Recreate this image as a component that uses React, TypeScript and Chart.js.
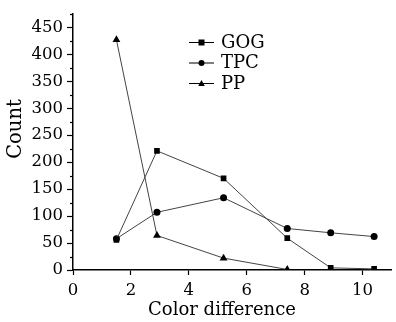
import React, { useEffect, useRef } from "react";
import { Chart, registerables } from "chart.js";

Chart.register(...registerables);

const xGOG = [1.5, 2.9, 5.2, 7.4, 8.9, 10.4];
const yGOG = [56, 221, 170, 59, 4, 2];
const xTPC = [1.5, 2.9, 5.2, 7.4, 8.9, 10.4];
const yTPC = [58, 107, 134, 77, 69, 62];
const xPP = [1.5, 2.9, 5.2, 7.4];
const yPP = [427, 64, 22, 1];
const seriesNames = ["GOG", "TPC", "PP"];
const xTicks = [0, 2, 4, 6, 8, 10];
const yTicks = [0, 50, 100, 150, 200, 250, 300, 350, 400, 450];
const xTitle = "Color difference";
const yTitle = "Count";

const FONT = "'DejaVu Serif', serif";

function pts(xs: number[], ys: number[]) {
  return xs.map((x, i) => ({ x, y: ys[i] }));
}

function drawMarker(ctx: CanvasRenderingContext2D, style: string, x: number, y: number, r: number) {
  ctx.beginPath();
  if (style === "rect") {
    ctx.rect(x - r, y - r, 2 * r, 2 * r);
  } else if (style === "circle") {
    ctx.arc(x, y, r, 0, Math.PI * 2);
  } else {
    ctx.moveTo(x, y - r * 1.2);
    ctx.lineTo(x + r * 1.1, y + r * 0.8);
    ctx.lineTo(x - r * 1.1, y + r * 0.8);
    ctx.closePath();
  }
  ctx.fill();
}

const extras = {
  id: "extras",
  afterDraw(chart: any) {
    const ctx = chart.ctx as CanvasRenderingContext2D;
    const ys = chart.scales.y;
    ctx.save();
    ctx.strokeStyle = "#000";
    ctx.lineWidth = 1.2;
    for (let v = 25; v <= 475; v += 50) {
      const p = Math.round(ys.getPixelForValue(v)) + 0.5;
      ctx.beginPath();
      ctx.moveTo(ys.right - 3, p);
      ctx.lineTo(ys.right, p);
      ctx.stroke();
    }
    // axis titles
    ctx.fillStyle = "#000";
    ctx.textAlign = "center";
    ctx.textBaseline = "middle";
    ctx.font = `18px ${FONT}`;
    ctx.fillText(xTitle, 222, 310);
    ctx.save();
    ctx.translate(16, 129);
    ctx.rotate(-Math.PI / 2);
    ctx.font = `19.5px ${FONT}`;
    ctx.fillText(yTitle, 0, 0);
    ctx.restore();
    // legend
    const lx0 = 189;
    const lx1 = 214;
    const ly0 = 42;
    chart.data.datasets.forEach((ds: any, i: number) => {
      const y = ly0 + i * 20.5;
      ctx.strokeStyle = "#000";
      ctx.lineWidth = 1;
      ctx.beginPath();
      ctx.moveTo(lx0, y + 0.5);
      ctx.lineTo(lx1, y + 0.5);
      ctx.stroke();
      ctx.fillStyle = "#000";
      drawMarker(ctx, ds.pointStyle, (lx0 + lx1) / 2, y + 0.5, 3);
      ctx.font = `18px ${FONT}`;
      ctx.textBaseline = "middle";
      ctx.textAlign = "left";
      ctx.fillText(ds.label, 221, y + 1);
    });
    ctx.restore();
  },
};

export default function App() {
  const ref = useRef<HTMLCanvasElement>(null);
  useEffect(() => {
    const common = {
      borderColor: "#444",
      borderWidth: 1,
      pointBackgroundColor: "#000",
      pointBorderColor: "#000",
      pointBorderWidth: 0,
      showLine: true,
      tension: 0,
    };
    const chart = new Chart(ref.current!, {
      type: "scatter",
      data: {
        datasets: [
          { ...common, label: seriesNames[0], data: pts(xGOG, yGOG), pointStyle: "rect", pointRadius: 4 },
          { ...common, label: seriesNames[1], data: pts(xTPC, yTPC), pointStyle: "circle", pointRadius: 3.5 },
          { ...common, label: seriesNames[2], data: pts(xPP, yPP), pointStyle: "triangle", pointRadius: 4.5 },
        ],
      },
      options: {
        animation: false,
        responsive: false,
        maintainAspectRatio: false,
        layout: { padding: { top: 8, right: 0, left: 0, bottom: 0 } },
        plugins: { legend: { display: false }, tooltip: { enabled: false } },
        scales: {
          x: {
            type: "linear",
            min: 0,
            max: 11,
            afterBuildTicks: (s: any) => {
              s.ticks = xTicks.map((v) => ({ value: v }));
            },
            afterFit: (s: any) => {
              s.height = 52;
            },
            grid: { drawOnChartArea: false, drawTicks: true, tickLength: 5, color: "#000", tickWidth: 1.2 },
            border: { display: true, color: "#000", width: 1.5 },
            ticks: { color: "#000", font: { family: FONT, size: 16.5 }, padding: 6 },
            title: { display: false },
          },
          y: {
            type: "linear",
            min: 0,
            max: 475,
            afterBuildTicks: (s: any) => {
              s.ticks = yTicks.map((v) => ({ value: v }));
            },
            afterFit: (s: any) => {
              s.width = 73;
            },
            grid: { drawOnChartArea: false, drawTicks: true, tickLength: 6, color: "#000", tickWidth: 1.2 },
            border: { display: true, color: "#000", width: 1.5 },
            ticks: { color: "#000", font: { family: FONT, size: 16.5 }, padding: 4 },
            title: { display: false },
          },
        },
      },
      plugins: [extras],
    });
    return () => chart.destroy();
  }, []);
  return (
    <div style={{ position: "fixed", left: 0, top: 0, width: 396, height: 322, background: "#fff" }}>
      <canvas ref={ref} width={396} height={322} style={{ width: 396, height: 322 }} />
    </div>
  );
}
